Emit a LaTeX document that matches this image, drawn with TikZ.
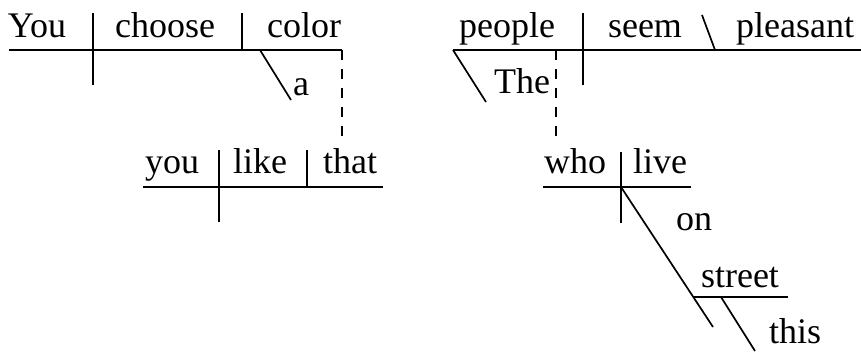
\documentclass[tikz,border=0pt]{standalone}
\usepackage{fontspec}
\setmainfont{Liberation Serif}
\begin{document}
\begin{tikzpicture}[x=1pt,y=-1pt,
  word/.style={anchor=base,inner sep=0pt,font=\fontsize{36}{40}\selectfont},
  rule/.style={line width=1.7pt,line cap=butt},
  dashrule/.style={line width=1.5pt,dash pattern=on 10pt off 9pt}]
\useasboundingbox (0,0) rectangle (861,351);
% ---------- left main clause ----------
\coordinate (l1a) at (9,50);
\coordinate (l1b) at (342,50);
\coordinate (sv1t) at (93,13);
\coordinate (sv1b) at (93,85);
\coordinate (vo1t) at (242,13);
\coordinate (vo1b) at (242,50);
\coordinate (a1) at (260,50);
\coordinate (a2) at (291,100);
\coordinate (d1b) at (342,145);
\draw[rule] (l1a) -- (l1b);
\draw[rule] (sv1t) -- (sv1b);
\draw[rule] (vo1t) -- (vo1b);
\draw[rule] (a1) -- (a2);
\draw[dashrule] (l1b) -- (d1b);
\node[word] (you1) at (37,37) {You};
\node[word] (choose) at (165,37) {choose};
\node[word] (color) at (304,37) {color};
\node[word] (a) at (301,95) {a};
% ---------- left relative clause ----------
\coordinate (l2a) at (143,187);
\coordinate (l2b) at (383,187);
\coordinate (sv2t) at (219,150);
\coordinate (sv2b) at (219,222);
\coordinate (vo2t) at (307,150);
\coordinate (vo2b) at (307,187);
\draw[rule] (l2a) -- (l2b);
\draw[rule] (sv2t) -- (sv2b);
\draw[rule] (vo2t) -- (vo2b);
\node[word] (you2) at (172,173) {you};
\node[word] (like) at (260,173) {like};
\node[word] (that) at (350,173) {that};
% ---------- right main clause ----------
\coordinate (r1a) at (453,50);
\coordinate (r1b) at (861,50);
\coordinate (sv3t) at (583,13);
\coordinate (sv3b) at (583,85);
\coordinate (pc1) at (702,15);
\coordinate (pc2) at (715,50);
\coordinate (the2) at (486,102);
\coordinate (d2t) at (556,50);
\coordinate (d2b) at (556,145);
\draw[rule] (r1a) -- (r1b);
\draw[rule] (sv3t) -- (sv3b);
\draw[rule] (pc1) -- (pc2);
\draw[rule] (r1a) -- (the2);
\draw[dashrule] (d2t) -- (d2b);
\node[word] (people) at (507,37) {people};
\node[word] (seem) at (645,37) {seem};
\node[word] (pleasant) at (795,37) {pleasant};
\node[word] (The) at (522,93) {The};
% ---------- right relative clause ----------
\coordinate (r2a) at (543,187);
\coordinate (r2b) at (691,187);
\coordinate (sv4t) at (621,152);
\coordinate (sv4b) at (621,223);
\coordinate (on1) at (621,187);
\coordinate (on2) at (713,327);
\coordinate (st1) at (693,297);
\coordinate (st2) at (788,297);
\coordinate (th1) at (721,297);
\coordinate (th2) at (755,351);
\draw[rule] (r2a) -- (r2b);
\draw[rule] (sv4t) -- (sv4b);
\draw[rule] (on1) -- (on2);
\draw[rule] (st1) -- (st2);
\draw[rule] (th1) -- (th2);
\node[word] (who) at (575,173) {who};
\node[word] (live) at (660,173) {live};
\node[word] (on) at (694,230) {on};
\node[word] (street) at (740,287) {street};
\node[word] (this) at (795,343) {this};
\end{tikzpicture}
\end{document}
